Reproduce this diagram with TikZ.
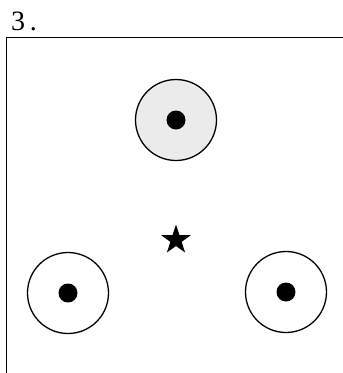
\documentclass[tikz,border=0pt]{standalone}
\usepackage{fontspec}
\setmainfont{Liberation Serif}
\usetikzlibrary{shapes.geometric}

\begin{document}
\begin{tikzpicture}[x=1pt,y=-1pt,
        ring/.style={draw,line width=1.3pt,circle,minimum size=81pt,inner sep=0pt},
        core/.style={fill=black,circle,minimum size=19pt,inner sep=0pt},
        mark star/.style={star,star points=5,star point ratio=2.6,fill=black,minimum size=31pt,inner sep=0pt}
      ]
        \useasboundingbox (0,0) rectangle (343,373);
        \node[anchor=base west,font=\fontsize{28}{30}\selectfont,inner sep=0pt] (num) at (11,30) {3\,.};
        % frame
        \draw[line width=0.9pt] (6,373) -- (6,37) -- (343,37);
        % the three rings
        \node[ring,fill=black!8] (ringA) at (176,120) {};
        \node[ring] (ringB) at (68,293) {};
        \node[ring] (ringC) at (286,292) {};
        \node[core] (coreA) at (ringA) {};
        \node[core] (coreB) at (ringB) {};
        \node[core] (coreC) at (ringC) {};
        \node[mark star] (centre) at (176,240) {};
      \end{tikzpicture}
\end{document}
